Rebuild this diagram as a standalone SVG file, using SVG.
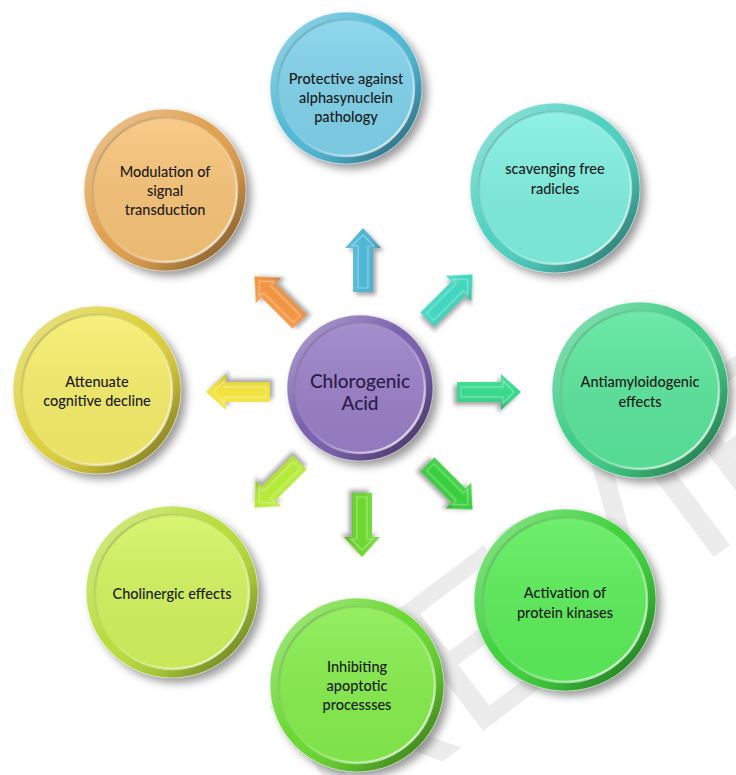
<svg xmlns="http://www.w3.org/2000/svg" width="736" height="775" viewBox="0 0 736 775">
<defs>
<filter id="sh" x="-30%" y="-30%" width="160%" height="160%"><feDropShadow dx="5" dy="5" stdDeviation="4" flood-color="#000" flood-opacity="0.4"/></filter>
<filter id="ash" x="-40%" y="-40%" width="180%" height="180%"><feDropShadow dx="3" dy="3" stdDeviation="2" flood-color="#000" flood-opacity="0.35"/></filter>
<linearGradient id="bevel" x1="0" y1="0" x2="1" y2="1">
<stop offset="0" stop-color="#fff" stop-opacity="0.45"/>
<stop offset="0.45" stop-color="#fff" stop-opacity="0"/>
<stop offset="0.7" stop-color="#000" stop-opacity="0.12"/>
<stop offset="1" stop-color="#000" stop-opacity="0.55"/>
</linearGradient>
<linearGradient id="inEdge" x1="0" y1="0" x2="1" y2="1">
<stop offset="0" stop-color="#000" stop-opacity="0.25"/>
<stop offset="0.5" stop-color="#fff" stop-opacity="0.1"/>
<stop offset="1" stop-color="#fff" stop-opacity="0.95"/>
</linearGradient>
<linearGradient id="face" x1="0" y1="0" x2="0" y2="1">
<stop offset="0" stop-color="#fff" stop-opacity="0.12"/>
<stop offset="1" stop-color="#000" stop-opacity="0.05"/>
</linearGradient>
<linearGradient id="abev" x1="0" y1="0" x2="1" y2="0">
<stop offset="0" stop-color="#fff" stop-opacity="0.15"/>
<stop offset="0.5" stop-color="#fff" stop-opacity="0"/>
<stop offset="1" stop-color="#000" stop-opacity="0.2"/>
</linearGradient>
<path id="arr" d="M0,-32 L18,-12 L10,-12 L10,32 L-10,32 L-10,-12 L-18,-12 Z"/>
<path id="arrIn" d="M0,-25 L11,-14 L5,-14 L5,28 L-5,28 L-5,-14 L-11,-14 Z"/>
</defs>
<style>
.t{font-family:Lato,"Open Sans","Liberation Sans",sans-serif;font-size:14.5px;font-weight:500;fill:#1a1a1a;text-anchor:middle}
.c{font-family:Lato,"Open Sans","Liberation Sans",sans-serif;font-size:19px;font-weight:500;fill:#2a1c48;text-anchor:middle}
.bv{fill:url(#bevel)}
.ie{fill:none;stroke:url(#inEdge);stroke-width:2.5}
.fc{fill:url(#face)}
.oe{fill:none;stroke:#fff;stroke-opacity:0.5;stroke-width:1}
.ai{fill:none;stroke:#fff;stroke-opacity:0.35;stroke-width:1.2}
.wm{font-family:"Liberation Sans",sans-serif;font-size:215px;fill:#ececec}
</style>

<text class="wm" transform="translate(345,835) rotate(-37)">REVIEW</text>

<g id="connectors">
<g filter="url(#ash)" transform="translate(363,260)"><use href="#arr" fill="#4db6d6"/><use href="#arr" fill="url(#abev)"/><use href="#arrIn" class="ai"/></g>
<g filter="url(#ash)" transform="translate(450,297) rotate(45)"><use href="#arr" fill="#3fd6bf"/><use href="#arr" fill="url(#abev)"/><use href="#arrIn" class="ai"/></g>
<g filter="url(#ash)" transform="translate(489,392) rotate(90)"><use href="#arr" fill="#36d98c"/><use href="#arr" fill="url(#abev)"/><use href="#arrIn" class="ai"/></g>
<g filter="url(#ash)" transform="translate(450,487) rotate(135)"><use href="#arr" fill="#38d03c"/><use href="#arr" fill="url(#abev)"/><use href="#arrIn" class="ai"/></g>
<g filter="url(#ash)" transform="translate(362,525) rotate(180)"><use href="#arr" fill="#6ad82c"/><use href="#arr" fill="url(#abev)"/><use href="#arrIn" class="ai"/></g>
<g filter="url(#ash)" transform="translate(277,485) rotate(225)"><use href="#arr" fill="#b6ea36"/><use href="#arr" fill="url(#abev)"/><use href="#arrIn" class="ai"/></g>
<g filter="url(#ash)" transform="translate(238,392) rotate(270)"><use href="#arr" fill="#f2e23c"/><use href="#arr" fill="url(#abev)"/><use href="#arrIn" class="ai"/></g>
<g filter="url(#ash)" transform="translate(277,299) rotate(315)"><use href="#arr" fill="#f29440"/><use href="#arr" fill="url(#abev)"/><use href="#arrIn" class="ai"/></g>
</g>

<g id="n-protective" transform="translate(346,88)">
<circle r="76" fill="#4fb9d6" filter="url(#sh)"/><circle r="76" class="bv"/><circle r="76" class="oe"/>
<circle r="68" fill="#80d3ec"/><circle r="68" class="fc"/><circle r="68" class="ie"/>
<text class="t" y="-4">Protective against</text><text class="t" y="15">alphasynuclein</text><text class="t" y="34">pathology</text>
</g>

<g id="n-scavenging" transform="translate(555,188)">
<circle r="85" fill="#4fd0c0" filter="url(#sh)"/><circle r="85" class="bv"/><circle r="85" class="oe"/>
<circle r="76" fill="#80f0e0"/><circle r="76" class="fc"/><circle r="76" class="ie"/>
<text class="t" y="-14">scavenging free</text><text class="t" y="6">radicles</text>
</g>

<g id="n-antiamyloidogenic" transform="translate(640,390)">
<circle r="88" fill="#3fcd86" filter="url(#sh)"/><circle r="88" class="bv"/><circle r="88" class="oe"/>
<circle r="79" fill="#5ae69c"/><circle r="79" class="fc"/><circle r="79" class="ie"/>
<text class="t" y="-3">Antiamyloidogenic</text><text class="t" y="17">effects</text>
</g>

<g id="n-activation" transform="translate(565,600)">
<circle r="91" fill="#3fd23c" filter="url(#sh)"/><circle r="91" class="bv"/><circle r="91" class="oe"/>
<circle r="82" fill="#5cee5a"/><circle r="82" class="fc"/><circle r="82" class="ie"/>
<text class="t" y="-2">Activation of</text><text class="t" y="18">protein kinases</text>
</g>

<g id="n-inhibiting" transform="translate(357,685)">
<circle r="87" fill="#6ad830" filter="url(#sh)"/><circle r="87" class="bv"/><circle r="87" class="oe"/>
<circle r="78" fill="#86ee4c"/><circle r="78" class="fc"/><circle r="78" class="ie"/>
<text class="t" y="-13">Inhibiting</text><text class="t" y="6">apoptotic</text><text class="t" y="25">processses</text>
</g>

<g id="n-cholinergic" transform="translate(172,592)">
<circle r="86" fill="#b8dc3c" filter="url(#sh)"/><circle r="86" class="bv"/><circle r="86" class="oe"/>
<circle r="77" fill="#d2f45e"/><circle r="77" class="fc"/><circle r="77" class="ie"/>
<text class="t" y="7">Cholinergic effects</text>
</g>

<g id="n-attenuate" transform="translate(97,390)">
<circle r="84" fill="#dcd03c" filter="url(#sh)"/><circle r="84" class="bv"/><circle r="84" class="oe"/>
<circle r="75" fill="#f6ee6a"/><circle r="75" class="fc"/><circle r="75" class="ie"/>
<text class="t" y="-3">Attenuate</text><text class="t" y="16">cognitive decline</text>
</g>

<g id="n-modulation" transform="translate(165,190)">
<circle r="81" fill="#e0a050" filter="url(#sh)"/><circle r="81" class="bv"/><circle r="81" class="oe"/>
<circle r="72" fill="#f8c478"/><circle r="72" class="fc"/><circle r="72" class="ie"/>
<text class="t" y="-13">Modulation of</text><text class="t" y="6">signal</text><text class="t" y="25">transduction</text>
</g>

<g id="n-center" transform="translate(360,388)">
<circle r="73" fill="#7a60ae" filter="url(#sh)"/><circle r="73" class="bv"/><circle r="73" class="oe"/>
<circle r="65" fill="#9a80c8"/><circle r="65" class="fc"/><circle r="65" class="ie"/>
<text class="c" y="0">Chlorogenic</text><text class="c" y="22">Acid</text>
</g>
</svg>
